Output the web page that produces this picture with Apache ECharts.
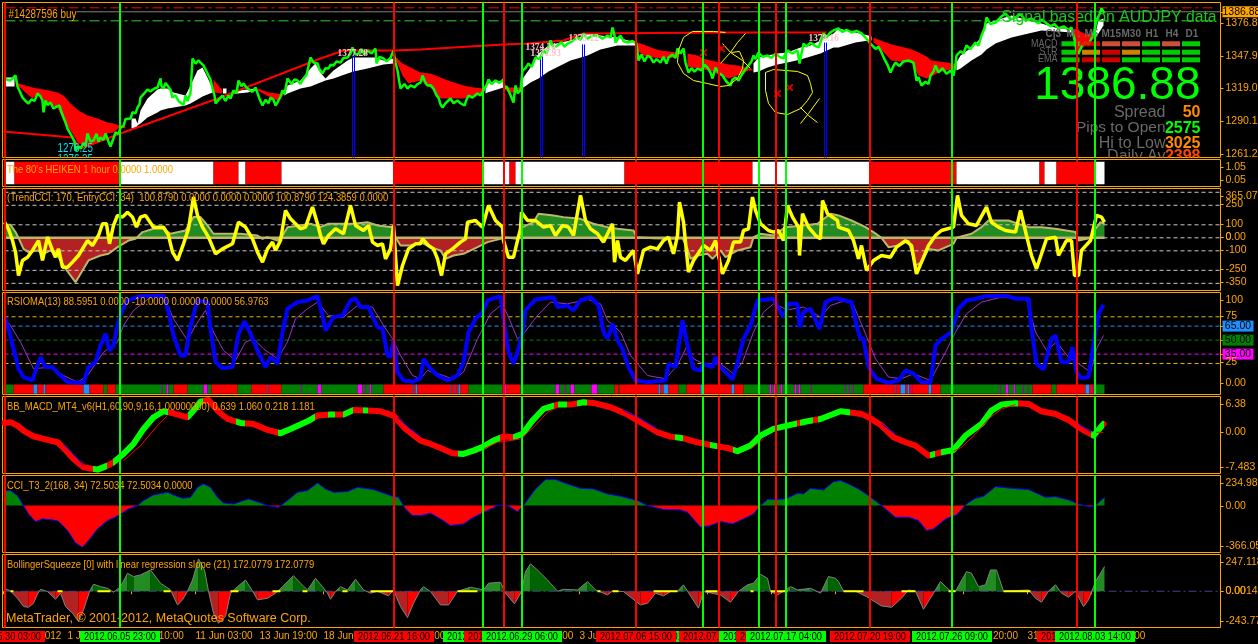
<!DOCTYPE html>
<html><head><meta charset="utf-8"><title>AUDJPY terminal</title>
<style>html,body{margin:0;padding:0;background:#000;overflow:hidden}#c{width:1258px;height:644px}</style>
<script src="https://cdn.jsdelivr.net/npm/echarts@6/dist/echarts.min.js"></script></head><body><div id="c"></div>
<script>
const priceLine=[[4,1328.8],[7,1326.5],[10,1326.1],[12,1328],[15,1330.5],[17,1320.8],[19,1317],[22,1311],[25,1308],[28,1305.8],[31,1309.5],[34,1308],[37,1314.6],[40,1312],[42,1308.4],[43,1298],[45,1308.4],[47,1304.5],[50,1306.6],[53,1301.3],[56,1303],[59,1304],[61,1298],[63,1293.4],[65,1289],[67,1283.6],[69,1285],[72,1275.7],[74,1272],[75,1264.2],[78,1268],[80,1265.9],[83,1271],[85,1268],[87,1279.2],[90,1272],[93,1273],[96,1279],[98,1272],[100,1275.7],[103,1273.5],[105,1279.2],[108,1272],[110,1267.7],[113,1275],[115,1280.1],[118,1279],[120,1284.5],[123,1286],[125,1292],[127,1293.4],[130,1292.5],[132,1298],[135,1297],[137,1302.2],[139,1305],[140,1311],[143,1314],[147,1318.2],[150,1316.5],[154,1319],[157,1319.9],[160,1327.9],[161,1321],[163,1319],[165,1324],[167,1323.4],[170,1318],[172,1311],[175,1313],[178,1308],[180,1307.5],[183,1304.5],[185,1312.8],[187,1308],[190,1315],[192,1345.6],[195,1341],[198,1344],[200,1342],[203,1339.4],[205,1336],[208,1330.5],[210,1327],[212,1319],[214,1313],[215,1305.8],[218,1309],[222,1312.8],[225,1308],[228,1313],[230,1310.2],[233,1317.3],[236,1315],[238,1326.1],[241,1321],[243,1323.4],[246,1320],[248,1319],[252,1316],[255,1320],[257,1319],[259,1310],[262,1304],[265,1309],[268,1306],[270,1311],[273,1309],[275,1304],[277,1306.6],[280,1312],[282,1317.3],[284,1314],[287,1327.9],[291,1323],[294,1327],[297,1326.1],[300,1323],[303,1327.9],[306,1331],[308,1339],[310,1346.5],[313,1342],[317,1341.2],[319,1336],[322,1332.3],[325,1337],[328,1336.7],[330,1340],[333,1339.4],[336,1343],[340,1342],[343,1346],[347,1346.5],[350,1350],[352,1355.3],[355,1349],[358,1350],[361,1354],[364,1349],[367,1352.7],[371,1350],[375,1354.4],[376,1341.2],[379,1347],[383,1345.6],[386,1343],[390,1346],[393,1352.7],[395,1342],[397,1334.9],[399,1324],[400,1319],[404,1323],[407,1319],[410,1321.7],[414,1320],[417,1323],[420,1324.3],[422,1330.5],[425,1324],[427,1321.7],[430,1322],[433,1319],[436,1313],[438,1311],[440,1305],[442,1302.2],[445,1306],[447,1305],[450,1310.2],[453,1306],[457,1308.4],[460,1306],[464,1304],[466,1309],[468,1312.8],[472,1311],[477,1314.6],[480,1313],[483,1317.3],[486,1322],[488,1327],[491,1323],[495,1326.1],[499,1324],[503,1327],[504,1319],[506,1321],[508,1317.3],[510,1313],[513,1306.6],[515,1321.7],[517,1315],[520,1317.3],[522,1334.9],[525,1337],[528,1341.2],[531,1338],[535,1346.5],[539,1345],[543,1352.7],[546,1350],[550,1361.5],[553,1355],[557,1357.1],[561,1360],[564,1356],[567,1358.8],[572,1361],[577,1364.2],[580,1362],[583,1367.7],[587,1363],[592,1366],[597,1365.9],[602,1363],[607,1365.9],[610,1364],[612,1373],[614,1366],[615,1359.7],[618,1364],[620,1365.9],[623,1361],[627,1359.7],[632,1361],[636,1358.8],[638,1343.8],[641,1349],[644,1343],[647,1348],[650,1346.5],[653,1342],[656,1345],[660,1342],[663,1347],[666,1341],[668,1346.5],[672,1349],[675,1346],[677,1354.4],[680,1350],[683,1354.4],[685,1342],[688,1333.2],[691,1337],[694,1334],[697,1336.7],[701,1335],[704,1340],[707,1337.6],[710,1333],[712,1327.9],[715,1337.6],[718,1333],[722,1330.5],[726,1325],[730,1321.7],[732,1327],[735,1328.8],[738,1326],[742,1332.3],[745,1336],[748,1339.4],[751,1343],[753,1348.2],[755,1345],[758,1350.9],[762,1347],[767,1348.2],[771,1346],[775,1350],[779,1347],[783,1345.6],[785,1350],[787,1352.7],[792,1350],[797,1352.7],[799,1341.2],[801,1350],[803,1358.8],[806,1356],[810,1359.7],[814,1357],[818,1355.3],[820,1360],[823,1367.7],[826,1364],[829,1368],[833,1370.4],[838,1372.1],[842,1369],[846,1371],[851,1368.6],[856,1370],[861,1367.7],[865,1364],[870,1358.8],[875,1354],[878,1356],[881,1350.9],[884,1345],[887,1340],[890,1333.2],[893,1339],[895,1342],[899,1339],[903,1343],[908,1343.8],[913,1342],[916,1326.1],[918,1329],[921,1321.7],[925,1325],[928,1323],[930,1330.5],[933,1334],[935,1339.4],[938,1333.2],[942,1337],[946,1332],[950,1335],[953,1330.5],[955,1340],[956,1348.2],[960,1352],[963,1350],[966,1357.1],[970,1354],[975,1359.7],[978,1357],[981,1365.9],[984,1372],[986,1381.9],[990,1376],[995,1377.4],[1000,1382],[1005,1385.4],[1010,1380],[1015,1381.9],[1020,1385],[1025,1379],[1031,1381],[1038,1376.5],[1041,1380],[1045,1377.4],[1050,1374],[1054,1376],[1058,1372.1],[1063,1374],[1068,1371],[1071,1373],[1073,1366],[1075,1358.8],[1076,1352],[1078,1350],[1081,1356],[1085,1359.7],[1088,1358],[1091,1363.3],[1094,1371],[1096,1379.2],[1099,1385],[1101,1389.8],[1104,1385.4]];
const cloudRows=[[4,1328.8,1320.8,'w'],[14,1328.8,1320.8,'w'],[15,1324.3,1323.4,'r'],[25,1321.7,1315.5,'r'],[32,1319.9,1310.2,'r'],[37,1319,1314.6,'r'],[43,1318.1,1308.4,'r'],[48,1317.3,1305.8,'r'],[57,1315.5,1302.2,'r'],[63,1312.8,1290.7,'r'],[70,1305.8,1281.9,'r'],[78,1299.6,1270.3,'r'],[87,1295.1,1268.6,'r'],[97,1292.5,1271.2,'r'],[107,1288.9,1279.2,'r'],[113,1288,1280.1,'r'],[119,1286.3,1284.5,'r'],[125,1285.4,1283.6,'r'],[131,1292.5,1283.6,'w'],[135,1292.5,1283.6,'w'],[137,1288,1286.3,'w'],[140,1299.6,1288,'w'],[147,1310.2,1293.4,'w'],[157,1318.1,1297.8,'w'],[160,1319,1299.6,'w'],[167,1319,1301.3,'w'],[173,1315.5,1302.2,'w'],[185,1312.8,1304,'w'],[190,1321.7,1305.8,'w'],[197,1334.9,1309.3,'w'],[202,1337.6,1311.9,'w'],[207,1328.8,1313.7,'w'],[212,1319,1315.5,'w'],[213,1327,1315.5,'r'],[222,1317.3,1314.6,'r'],[222.5,1319,1314.6,'w'],[226,1319,1314.6,'w'],[229,0,0,'-'],[233,1315.5,1314.6,'w'],[237,1317.3,1314.6,'w'],[247,1318.1,1315.5,'w'],[256,1319,1317.3,'w'],[257,1319,1317.3,'r'],[268,1315.5,1311.9,'r'],[277,1314.6,1308.4,'r'],[283,1313.7,1312.8,'r'],[284,1314.6,1312.8,'w'],[287,1321.7,1314.6,'w'],[300,1326.1,1319,'w'],[310,1336.7,1320.8,'w'],[315,1341.2,1322.6,'w'],[320,1333.2,1324.3,'w'],[325,1327.9,1326.1,'w'],[333,1335,1327.9,'w'],[347,1343.8,1332.3,'w'],[353,1346.5,1334.1,'w'],[367,1346.5,1336.7,'w'],[375,1346.5,1338.5,'w'],[383,1343.8,1340.3,'w'],[393,1345.6,1341.2,'w'],[395,1346.5,1343.8,'r'],[397,1345.6,1341.2,'r'],[402,1341.2,1330.5,'r'],[408,1338.5,1323.4,'r'],[420,1333.2,1326.1,'r'],[430,1332.3,1319.9,'r'],[440,1328.8,1310.2,'r'],[450,1325.2,1310.2,'r'],[463,1321.7,1310.2,'r'],[473,1319.9,1312.8,'r'],[483,1319,1315.5,'r'],[485,1319.9,1314.6,'w'],[487,1323.4,1315.5,'w'],[503,1326.1,1319.9,'w'],[503.5,1319.9,1319,'r'],[508,1319.9,1315.5,'r'],[517,1319.9,1315.5,'r'],[521,1319.9,1319,'r'],[522,1326.1,1319.9,'w'],[523,1328.8,1319.9,'w'],[530,1337.6,1324.3,'w'],[538,1350,1327.9,'w'],[548,1357.1,1334.1,'w'],[560,1359.7,1339.4,'w'],[570,1361.5,1343.8,'w'],[577,1363.3,1345.6,'w'],[587,1367.7,1348.2,'w'],[600,1365.9,1353.5,'w'],[617,1364.2,1357.1,'w'],[635,1359.7,1357.1,'w'],[637,1359.7,1352.7,'r'],[643,1358,1348.2,'r'],[653,1354.4,1346.5,'r'],[660,1352.7,1345.6,'r'],[677,1350.9,1346.5,'r'],[682,0,0,'-'],[687,1350,1338.5,'r'],[697,1348.2,1336.7,'r'],[703,1345.6,1335.8,'r'],[710,1343.8,1335,'r'],[720,1342,1330.5,'r'],[728,1340.3,1327.9,'r'],[737,1339.4,1330.5,'r'],[748,1336.7,1335,'r'],[752,1335.8,1335,'r'],[753,1341.2,1333.2,'w'],[758,1346.5,1334.1,'w'],[767,1348.2,1337.6,'w'],[777,1350,1340.3,'w'],[787,1350.9,1342,'w'],[800,1355.3,1344.7,'w'],[810,1357.1,1347.3,'w'],[820,1361.5,1350,'w'],[833,1367.7,1355.3,'w'],[838,1372.1,1355.3,'w'],[855,1368.6,1359.7,'w'],[868,1365.9,1361.5,'w'],[871,1365,1361.5,'w'],[873,1364.2,1359.7,'r'],[875,1363.3,1358.8,'r'],[888,1358.8,1346.5,'r'],[891,1358,1343.8,'r'],[908,1354.4,1342,'r'],[911,1353.5,1342,'r'],[918,1350.9,1330.5,'r'],[926,1347.3,1327.9,'r'],[931,1343.8,1329.6,'r'],[938,1342.9,1333.2,'r'],[953,1341.2,1336.7,'r'],[955,1341.2,1338.5,'r'],[956,1342,1335,'w'],[960,1348.2,1336.7,'w'],[971,1355.3,1343.8,'w'],[981,1364.2,1349.1,'w'],[986,1376.5,1353.5,'w'],[995,1379.2,1358.8,'w'],[1011,1383.6,1364.2,'w'],[1028,1379.2,1367.7,'w'],[1041,1376.5,1370.4,'w'],[1058,1372.1,1369.5,'w'],[1071,1372.1,1368.6,'w'],[1073,1372.1,1357.1,'r'],[1078,1370.4,1350.9,'r'],[1086,1366.8,1358.8,'r'],[1095,1368.6,1364.2,'r'],[1095.5,1370.4,1364.2,'w'],[1098,1379.2,1367.7,'w'],[1103,1381,1374.8,'w']];
const trendLine=[[3,1281],[72,1275.7],[80,1265.9],[120,1279.2],[217,1310.2],[320,1345.6],[343,1352.7],[393,1352.7],[420,1353.5],[453,1355.3],[503,1358],[527,1358.8],[563,1361.5],[583,1367.7],[720,1368.6],[826,1368.6]];
const blueBarX=[352,354,540,542,582,584,824,826];
const blueBarTop=[1348.2,1348.2,1347.3,1347.3,1358,1358,1359.7,1359.7];
const handDrawn=[[725,1368.6],[713,1369.5],[692,1369.5],[683,1364.2],[678,1352.7],[677,1342],[683,1332.3],[693,1326.1],[707,1323.4],[720,1320.8],[728,1321.7],[737,1327.9],[742,1336.7],[743,1343.8],[739,1351.8],[731,1350.9],[731,null],[722,1358.8],[730,1350.9],[742,1343.8],[750,1336.7],[750,null],[745,1367.7],[737,1359.7],[730,1350.9],[720,1341.2],[720,null],[765,1333.2],[773,1335.8],[797,1334.1],[807,1330.5],[810,1323.4],[812,1315.5],[807,1308.4],[800,1301.3],[787,1296],[775,1297.8],[768,1305.8],[765,1317.3],[765,1333.2],[765,null],[819,1310.2],[808,1296.9],[800,1288],[800,null],[800,1302.2],[808,1295.1],[817,1288.9]];
const crossMarks=[[703,1350.9],[721,1354.4],[777,1314.6],[789,1319.9]];
const currentPrice=1386.88, stopLevel=1390.4, targetLevel=1378.9;

const signalColX=[1070,1090.5,1110.5,1130.5,1150.5,1170.5,1190.5];
const signalRowY=[1358.6,1351.1,1344.4];
const macdRow=['#00ff00','#ff0000','#ff6347','#ff6347','#00ff00','#ff6347','#00ff00'];
const strRow=['#00ff00','#ffa500','#ff0000','#ffa500','#00ff00','#00ff00','#00ff00'];
const emaRow=['#00ff00','#ff0000','#ff0000','#00ff00','#00ff00','#00ff00','#00ff00'];

const noteX=[8,57,57,337,525,530,568,808,1001,1045,1066,1084,1101,1121,1145,1165,1185,1057,1057,1057,1200,1165,1200,1165,1200,1165,1200,1165,1200];
const noteY=[1383.9,1265.9,1256.2,1350,1356,1350.5,1363.7,1363.7,1381.9,1367.1,1367.1,1367.1,1367.1,1367.1,1367.1,1367.1,1367.1,1358.6,1351.3,1344.6,1321.2,1297.8,1297.8,1283.9,1283.9,1270.6,1270.6,1258.4,1258.4];
const noteText=['#14287596 buy','1276.25','1276.25','1377.28','1374.24','1371.93','1379.12','1378.16','Signal based on AUDJPY data','C|3','M1','M5','M15','M30','H1','H4','D1','MACD','STR','EMA','1386.88','Spread','50','Pips to Open','2575','Hi to Low','3025','Daily Av','2398'];
const noteColor=['#ffa500','#00e5ee','#00e5ee','#ffc0cb','#ffc0cb','#ffc0cb','#ffc0cb','#ffc0cb','#1cc61c','#696969','#696969','#696969','#696969','#696969','#696969','#696969','#696969','#696969','#696969','#696969','#00ff00','#696969','#ff8c00','#696969','#00ff00','#696969','#ff8c00','#696969','#ff4500'];
const noteSize=[12,12,12,11,11,11,11,11,15.8,10,10,10,10,10,10,10,10,10,10,10,46,16,16,15.5,16,16,16,16,16];
const noteWeight=['normal','normal','normal','bold','bold','bold','bold','bold','normal','bold','bold','bold','bold','bold','bold','bold','bold','normal','normal','normal','normal','normal','bold','normal','bold','normal','bold','normal','bold'];
const noteScale=[.82,.82,.82,.85,.85,.85,.85,.85,1,1,1,1,1,1,1,1,1,.9,.9,.9,1,1,1,1,1,1,1,1,1];
const noteFace=['a','a','a','s','s','s','s','s','a','a','a','a','a','a','a','a','a','a','a','a','a','a','a','a','a','a','a','a','a'];
const noteAlign=['left','left','left','left','left','left','left','left','left','left','left','left','left','left','left','left','left','right','right','right','right','right','right','right','right','right','right','right','right'];

const heikenStart=[5,14,120,213,238,245,281,393,483,509,515,624,752,869,956,1039,1044,1056,1095];
const heikenEnd=[14,120,213,238,245,281,393,483,509,515,624,752,869,956,1039,1044,1056,1095,1104];
const heikenKind=['w','r','w','r','w','r','w','r','w','r','w','r','w','r','w','r','w','r','w'];

const cciEntry=[[4,120],[8,69],[12,-21],[15,-110],[18,-290],[22,-174],[27,-149],[32,-97],[38,-21],[42,-174],[47,5],[52,-97],[55,-149],[58,-85],[62,-226],[67,-226],[72,-187],[78,-136],[87,-21],[92,-59],[98,18],[102,108],[106,108],[109,-46],[113,95],[117,172],[122,159],[127,197],[132,159],[136,82],[140,159],[145,172],[153,82],[163,82],[168,18],[172,-110],[177,-174],[183,-46],[188,69],[193,313],[197,172],[202,82],[208,5],[215,-123],[222,-85],[232,-46],[238,120],[245,82],[252,-8],[257,-110],[262,-187],[267,-85],[272,-33],[275,-97],[280,-21],[285,210],[290,146],[300,69],[305,82],[312,236],[317,108],[320,18],[323,-46],[328,18],[335,69],[343,31],[350,249],[355,95],[363,56],[368,95],[372,-33],[377,-59],[382,-46],[385,-162],[390,-85],[393,95],[397,-367],[402,-213],[408,-85],[415,-46],[420,-46],[422,-8],[428,-59],[433,-85],[437,-162],[441,-290],[445,-123],[452,-85],[460,-33],[465,-8],[467,120],[475,133],[482,82],[488,249],[495,133],[502,82],[503,-21],[508,-149],[513,-149],[517,-21],[520,69],[521,197],[527,133],[535,133],[543,82],[550,95],[555,18],[562,95],[568,82],[573,18],[580,326],[585,133],[590,69],[597,31],[603,-33],[612,108],[614,-187],[617,-21],[620,-149],[625,-174],[633,-97],[637,-277],[643,-97],[650,-72],[657,-85],[663,-21],[668,5],[673,-123],[677,18],[679,274],[683,120],[688,-264],[693,-174],[703,-59],[710,-97],[715,-21],[718,-136],[722,-277],[728,-174],[733,-33],[740,-33],[743,56],[748,69],[752,313],[755,210],[760,108],[768,56],[773,44],[778,56],[783,-21],[787,249],[792,159],[798,82],[799,-136],[802,185],[808,82],[815,18],[820,-8],[822,287],[827,185],[837,133],[838,82],[848,56],[853,-21],[858,-162],[861,-59],[866,-251],[873,-174],[881,-136],[890,-149],[896,-72],[905,-21],[911,-59],[916,-277],[921,-187],[928,-59],[935,18],[941,56],[953,82],[957,326],[961,172],[968,108],[976,95],[986,236],[991,120],[998,82],[1005,56],[1015,44],[1020,210],[1026,18],[1031,-136],[1036,-238],[1046,-8],[1055,5],[1058,-136],[1066,-21],[1071,-21],[1074,-290],[1078,-290],[1081,-97],[1090,-21],[1096,172],[1101,159],[1104,120]];
const cciTrend=[[4,100],[10,100],[15,44],[18,0],[23,-85],[28,-110],[37,-97],[43,-123],[50,-97],[57,-136],[65,-238],[75,-341],[82,-251],[88,-174],[100,-136],[108,-123],[117,-72],[128,-21],[135,-8],[142,44],[153,69],[163,69],[170,31],[185,56],[193,159],[200,159],[207,95],[213,31],[227,31],[240,31],[257,18],[262,-8],[267,5],[277,-21],[282,18],[287,82],[300,95],[310,108],[320,82],[328,108],[347,108],[353,108],[367,120],[377,95],[392,82],[395,5],[400,-59],[410,-59],[420,-33],[430,-72],[440,-97],[445,-162],[453,-136],[463,-123],[477,-72],[487,-33],[500,-8],[503,5],[517,-8],[522,82],[533,120],[538,185],[553,172],[563,159],[580,146],[593,108],[607,82],[617,69],[633,56],[636,5],[653,-3],[673,-8],[682,-3],[687,-85],[690,-162],[697,-136],[707,-123],[712,-162],[720,-97],[725,-149],[737,-97],[750,-72],[753,5],[760,31],[773,18],[785,82],[803,95],[817,108],[830,185],[838,172],[851,133],[865,82],[873,44],[881,0],[888,-72],[898,-59],[908,-21],[915,-213],[921,-187],[928,-85],[938,-97],[953,-46],[956,0],[971,31],[981,82],[988,133],[1008,133],[1028,82],[1041,82],[1055,69],[1075,44],[1078,-21],[1091,0],[1095,69],[1100,120],[1104,108]];
const cciDashLevels=[350,250,100,0,-100,-250,-350];

const rsiBlue=[[4,74.6],[8,62.1],[13,40.7],[18,19.3],[23,10.4],[32,6.8],[37,22.9],[40,31.8],[45,21.1],[52,21.1],[58,14],[67,5],[83,4.3],[88,21.1],[95,26.4],[100,44.3],[105,56.8],[109,38.9],[113,44.3],[117,65.7],[121,80],[127,92.5],[140,97.1],[163,97.9],[168,80],[173,55],[180,33.6],[185,33.6],[190,65.7],[197,92.5],[207,90.7],[210,62.1],[215,26.4],[222,20],[232,21.1],[238,56.8],[244,70],[250,56.8],[257,38.9],[265,21.1],[270,31.8],[277,24.6],[282,58.6],[287,83.6],[297,90.7],[307,92.5],[317,97.1],[322,76.4],[325,60.4],[333,74.6],[342,76.4],[350,92.5],[355,94.3],[360,85.4],[368,85.4],[373,72.9],[377,63.9],[382,62.1],[387,33.6],[390,31.8],[393,49.6],[397,15.7],[403,6.8],[413,5.7],[420,9.3],[423,30],[430,19.3],[437,12.1],[447,6.8],[457,12.1],[463,26.4],[468,58.6],[475,72.9],[482,80],[487,92.5],[500,97.1],[503,72.9],[508,37.1],[513,24.6],[518,40.7],[522,58.6],[525,82],[535,93.6],[553,96],[557,85.4],[567,87.1],[573,81.8],[580,92.5],[590,96.1],[598,87.1],[603,58.6],[607,51.4],[612,67.5],[617,49.6],[622,40.7],[628,21.1],[635,6.8],[647,5],[665,6.8],[668,24.6],[675,21.1],[682,71.1],[687,44.3],[693,19.3],[700,17.5],[703,24.6],[712,21.1],[715,31.8],[720,21.1],[732,7.9],[738,30],[743,51.4],[750,65.7],[757,92.5],[773,94.3],[783,74.6],[788,88.9],[797,88.9],[799,63.9],[803,80],[810,83.6],[819,62.1],[825,90.7],[833,94.3],[838,94.3],[851,90.7],[856,65.7],[860,51.4],[863,51.4],[868,21.1],[876,8.6],[888,4.3],[898,6.8],[905,17.5],[913,13.9],[921,5],[930,5],[935,44.3],[941,51.4],[951,58.6],[958,83.6],[966,92.5],[976,94.3],[985,97.1],[1005,97.9],[1015,94.3],[1028,94.3],[1031,62.1],[1036,24.6],[1043,18.6],[1051,51.4],[1055,55],[1061,26.4],[1068,26.4],[1072,42.5],[1076,15.7],[1081,9.3],[1088,10.4],[1095,58.6],[1098,78.2],[1103,87.9]];
const rsiPurple=[[4,72.9],[10,65.7],[20,47.9],[33,19.3],[50,21.1],[63,12.1],[77,5],[87,12.1],[103,37.1],[117,47.9],[123,65.7],[133,81.8],[150,96],[163,97.9],[173,72.9],[187,49.6],[195,65.7],[205,81.8],[213,58.6],[223,38.9],[235,28.2],[245,47.9],[253,51.4],[263,40.7],[277,30],[287,47.9],[295,72.9],[307,83.6],[317,90.7],[328,76.4],[343,74.6],[357,87.1],[372,85.4],[383,65.7],[392,51.4],[400,33.6],[412,12.1],[420,8.6],[427,17.5],[443,12.1],[453,7.9],[463,15.7],[477,51.4],[490,78.2],[502,88.9],[508,74.6],[517,51.4],[523,56.8],[537,76.4],[550,90.7],[567,88.9],[587,93.6],[600,88.9],[607,71.1],[620,58.6],[630,33.6],[647,12.1],[665,8.6],[677,22.9],[686,42.5],[693,30],[703,24.6],[720,24.6],[733,13.9],[742,26.4],[753,58.6],[763,80],[773,88.9],[787,82.5],[803,85.4],[820,74.6],[830,87.1],[840,90.7],[851,92.5],[863,62.1],[875,30],[888,10.4],[901,8.6],[913,13.9],[930,6.8],[945,37.1],[955,58.6],[966,78.2],[981,90.7],[1001,96.1],[1026,94.3],[1035,58.6],[1046,38.9],[1056,47.9],[1068,31.8],[1076,26.4],[1090,15.7],[1096,40.7],[1103,55]];
const rsiLevels=[75,65,50,35,25];
const rsiLevelColors=['#e6b800','#1e90ff','#008000','#ff00ff','#e6b800'];
const stripRuns=[[3,'g'],[13,'r'],[33,'b'],[37,'r'],[43,'b'],[45,'r'],[83,'b'],[89,'r'],[103,'g'],[107,'r'],[115,'g'],[161,'m'],[162,'g'],[166,'m'],[168,'g'],[173,'r'],[187,'g'],[203,'m'],[207,'g'],[211,'r'],[237,'g'],[251,'r'],[267,'b'],[268,'r'],[281,'g'],[300,'m'],[301,'g'],[317,'m'],[321,'g'],[357,'m'],[362,'g'],[364,'m'],[365,'g'],[369,'m'],[371,'g'],[383,'r'],[412,'b'],[413,'r'],[415,'b'],[417,'r'],[450,'b'],[451,'r'],[455,'b'],[456,'r'],[458,'b'],[460,'r'],[468,'g'],[502,'r'],[503,'m'],[506,'r'],[520,'g'],[555,'m'],[559,'g'],[564,'m'],[565,'g'],[570,'m'],[574,'g'],[591,'m'],[597,'g'],[614,'r'],[618,'g'],[619,'r'],[658,'b'],[660,'r'],[663,'b'],[668,'r'],[678,'g'],[686,'r'],[700,'b'],[702,'r'],[731,'b'],[734,'r'],[743,'g'],[769,'m'],[771,'g'],[773,'m'],[775,'g'],[780,'m'],[782,'g'],[794,'m'],[796,'g'],[798,'m'],[800,'g'],[810,'m'],[811,'g'],[844,'m'],[845,'g'],[848,'m'],[849,'g'],[852,'m'],[853,'g'],[863,'r'],[895,'b'],[896,'r'],[900,'b'],[905,'r'],[907,'b'],[909,'r'],[911,'m'],[912,'r'],[928,'b'],[931,'r'],[940,'g'],[999,'m'],[1000,'g'],[1005,'m'],[1008,'g'],[1013,'m'],[1015,'g'],[1022,'m'],[1023,'g'],[1027,'m'],[1028,'g'],[1032,'r'],[1051,'g'],[1056,'r'],[1085,'b'],[1089,'r'],[1092,'m'],[1093,'r'],[1094,'g'],[1104,'-']];

const macdMain=[[4,1.62],[10,1.74],[17,1.14],[23,0.24],[33,-0.78],[43,-1.26],[57,-1.86],[63,-2.88],[73,-4.86],[83,-6.36],[97,-6.78],[107,-6.06],[113,-5.46],[123,-3.96],[133,-2.16],[143,0.54],[153,2.64],[163,3.72],[173,3.36],[187,2.64],[193,3.84],[200,5.46],[208,5.76],[217,3.84],[227,2.34],[240,1.62],[253,1.44],[267,0.36],[280,-0.24],[290,0.54],[307,1.92],[317,2.94],[330,3.12],[343,3.12],[353,3.96],[367,3.84],[380,3.72],[393,2.94],[405,0.54],[420,-1.56],[430,-2.16],[440,-2.88],[452,-3.84],[463,-3.96],[473,-3.36],[483,-2.64],[493,-1.56],[503,-0.84],[513,-0.96],[522,-0.36],[532,2.04],[543,4.14],[557,4.92],[570,4.92],[583,5.34],[593,5.22],[610,4.44],[627,3.12],[640,1.74],[657,-0.06],[670,-0.84],[683,-1.14],[697,-1.86],[713,-2.46],[727,-2.88],[737,-3.48],[750,-2.46],[760,-0.66],[773,0.54],[790,1.26],[807,1.92],[820,2.34],[840,3.72],[848,3.54],[861,3.24],[871,2.34],[881,1.14],[893,-0.96],[905,-1.86],[915,-2.46],[928,-4.26],[941,-3.66],[953,-3.24],[965,-0.66],[981,1.44],[991,3.84],[1001,4.92],[1015,5.16],[1028,5.04],[1041,3.72],[1055,3.24],[1068,2.16],[1078,0.84],[1093,-0.66],[1103,1.44]];
const macdTurnX=[92,107,112,168,188,203,235,245,278,315,328,335,343,353,362,368,458,500,513,553,557,567,577,587,675,683,710,717,732,797,800,812,818,850,930,935,941,1018,1091,1104];
const macdBlueThin=[[63,-2.16],[73,-3.96],[83,-6.06],[83,null],[397,2.64],[410,0.54],[420,-0.66],[420,null],[623,3.84],[638,2.64],[657,0.54],[657,null],[881,1.44],[895,-0.36],[895,null],[1078,1.44],[1091,-0.06]];
const macdRedThin=[[123,-5.16],[140,-2.46],[157,1.14],[167,2.94],[167,null],[483,-3.06],[497,-1.86],[520,-1.26],[533,0.84],[547,3.54],[557,4.44],[557,null],[750,-3.06],[763,-1.26],[763,null],[953,-3.48],[961,-2.76],[975,-0.36],[988,2.34],[1001,4.14],[1015,4.92],[1015,null],[1095,-0.06],[1103,-0.06]];

const t3Values=[[4,117],[10,117],[17,78],[23,0],[28,-65],[35,-125],[42,-104],[50,-109],[58,-122],[67,-195],[75,-291],[82,-325],[88,-273],[97,-182],[107,-117],[118,-78],[128,-26],[137,0],[143,39],[153,83],[167,104],[173,83],[182,57],[190,65],[197,143],[203,169],[210,143],[217,65],[223,21],[233,13],[248,52],[258,26],[267,0],[278,-13],[287,39],[297,104],[307,117],[317,177],[325,130],[333,104],[347,109],[357,143],[373,125],[390,78],[398,65],[405,-26],[412,-78],[420,-78],[430,-60],[440,-104],[450,-156],[463,-143],[473,-91],[487,-39],[497,0],[507,0],[517,-47],[523,0],[535,130],[545,203],[555,203],[567,169],[580,135],[593,130],[607,91],[620,73],[637,39],[647,0],[663,-31],[680,-34],[687,-52],[700,-169],[710,-156],[720,-125],[732,-143],[743,-104],[753,-65],[760,0],[767,47],[785,52],[797,96],[803,91],[810,135],[823,122],[833,187],[840,195],[848,169],[858,130],[868,78],[881,0],[895,-91],[908,-91],[918,-117],[926,-195],[933,-182],[945,-104],[956,-73],[966,13],[975,57],[983,73],[995,148],[1011,135],[1028,125],[1045,65],[1055,70],[1068,44],[1078,13],[1088,-8],[1095,0],[1104,65]];

const bbValues=[[4,20],[10,2],[17,-47],[23,-103],[28,-108],[33,-81],[37,-18],[40,13],[47,-2],[55,-54],[60,-13],[65,-103],[72,-148],[78,-204],[83,-126],[89,-2],[93,47],[100,31],[107,20],[113,-7],[120,31],[127,121],[133,99],[140,110],[150,143],[160,54],[170,9],[177,-92],[182,-58],[187,0],[192,76],[198,217],[204,143],[208,0],[213,-148],[218,-215],[225,-170],[230,-13],[237,31],[245,76],[252,2],[257,-58],[267,-47],[275,-13],[282,31],[293,105],[300,54],[307,9],[315,87],[322,31],[327,-13],[330,-54],[335,-2],[340,31],[347,9],[355,81],[363,9],[370,-13],[377,0],[388,-31],[393,9],[400,-103],[407,-177],[413,-81],[420,9],[423,31],[430,-2],[440,-92],[448,-92],[457,0],[470,27],[483,9],[488,54],[500,61],[505,-13],[514,-85],[521,-2],[525,132],[530,184],[537,143],[547,76],[557,0],[563,13],[577,9],[587,65],[595,9],[607,-25],[612,2],[623,-2],[630,-40],[640,-92],[647,-81],[655,-13],[663,-31],[670,-2],[677,0],[683,43],[687,0],[698,-114],[703,-2],[720,-25],[730,-74],[738,0],[747,43],[753,54],[760,114],[767,87],[770,0],[777,-25],[783,0],[790,31],[797,9],[810,20],[820,-13],[828,99],[835,87],[838,65],[843,0],[855,0],[866,-36],[881,-99],[891,-108],[901,-47],[908,9],[915,0],[923,-121],[933,-13],[940,65],[950,0],[955,0],[966,132],[971,121],[978,31],[985,43],[990,143],[996,143],[1003,0],[1028,9],[1035,-47],[1041,-74],[1048,0],[1055,43],[1061,-13],[1068,-40],[1075,0],[1083,-103],[1088,-58],[1095,65],[1104,166]];
const squeezeStart=[10,57,97,163,230,272,302,342,370,457,597,612,653,705,750,770,843,901,948,1003];
const squeezeEnd=[13,62,110,170,238,280,307,347,393,477,600,618,677,717,753,787,863,915,955,1030];

const vlineX=[4.5,119.5,393.5,482.5,503.5,521.5,702.5,635.5,718.5,758.5,775.5,785.5,869.5,951.5,1076.5,1094.5];
const vlineKind=['r','g','r','g','r','g','g','r','r','g','r','g','r','g','r','g'];
const vlineTime=['2012.05.30 03:00','2012.06.05 23:00','2012.06.21 16:00','2012.06.27 21:00','2012.06.28 12:00','2012.06.29 06:00','2012.07.11 01:00','2012.07.06 15:00','2012.07.12 09:00','2012.07.16 10:00','2012.07.16 15:00','2012.07.17 04:00','2012.07.20 19:00','2012.07.26 09:00','2012.08.02 12:00','2012.08.03 14:00'];
const timeTicks=[3,67,131,195,259,323,387,451,515,579,643,707,771,835,899,963,1027,1091];
const timeLabels=['30 May 2012','1 Jun 20:00','5 Jun 10:00','11 Jun 03:00','13 Jun 19:00','18 Jun 12:00','20 Jun 21:00','25 Jun 17:00','28 Jun 10:00','3 Jul 02:00','5 Jul 19:00','10 Jul 11:00','12 Jul 23:00','17 Jul 15:00','20 Jul 07:00','25 Jul 20:00','31 Jul 00:00','2 Aug 20:00'];

const panelTitles=['The 80\'s HEIKEN 1 hour 0.0000 1.0000','(TrendCCI: 170, EntryCCI: 34)  100.8790 0.0000 0.0000 0.0000 100.8790 124.3859 0.0000','RSIOMA(13) 88.5951 0.0000 -10.0000 0.0000 0.0000 56.9763','BB_MACD_MT4_v6(H1,60,90,9,16,1.00000000) 0.639 1.060 0.218 1.181','CCI_T3_2(168, 34) 72.5034 72.5034 0.0000','BollingerSqueeze [0] with linear regression slope (21) 172.0779 172.0779','MetaTrader, © 2001-2012, MetaQuotes Software Corp.'];

const ARIAL='"Liberation Sans",sans-serif', SERIF='"Liberation Serif",serif';
const ORANGE='#ffa500', XMIN=2, XMAX=1220;
const colors={w:'#ffffff',r:'#ff0000',g:'#00ff00'};
const stripColors={r:'#ff0000',g:'#008000',b:'#1e90ff',m:'#ff00ff'};
const panels=[[2,155,1258.0,1395.1],[159,27,-0.1,1.1],[188,102,-405,379],[292,102,-8.25,101],[396,77,-7.483,6.38],[475,77,-366.056,234.989],[554,73,-243.774,247.118]];
const axisTexts=[
 [[1386.88,'{tag|1386.88}'],[1376.85,'1376.85'],[1347.95,'1347.95'],[1319.05,'1319.05'],[1290.15,'1290.15'],[1261.25,'1261.25']],
 [[0.76,'1.05'],[0.18,'0.05'],[0.03,'0.00']],
 [[364,'350'],[320,'365.072'],[258,'250'],[105,'100'],[5,'0.00'],[4,'0'],[-95,'-100'],[-242,'-250'],[-340,'-350'],[-351,'-403.475']],
 [[93.2,'100'],[75.6,'75'],[65,'{blue|65.00}'],[50,'{green|50.00}'],[35,'{mag|35.00}'],[26.4,'25'],[3.5,'0.00'],[-0.8,'-10']],
 [[5.06,'6.38'],[0,'0.00'],[-6.36,'-7.483']],
 [[175,'234.989'],[-4,'0.00'],[-319,'-366.056']],
 [[198,'247.118'],[3,'0.00'],[2,'0.0014'],[-201,'-243.774']]];

function indexData(n){const a=[];for(let i=0;i<n;i++)a.push([i]);return a;}
function splitZero(pts){const o=[pts[0]];for(let i=1;i<pts.length;i++){const a=pts[i-1],b=pts[i];if(a[1]*b[1]<0){o.push([a[0]+(b[0]-a[0])*a[1]/(a[1]-b[1]),0]);}o.push(b);}return o;}
function runs(pts,colorOf){const out=[];for(let i=1;i<pts.length;i++){const c=colorOf(pts[i-1],pts[i]);const l=out[out.length-1];if(l&&l.color===c)l.pts.push(pts[i]);else out.push({color:c,pts:[pts[i-1],pts[i]]});}return out;}
function polySeries(g,polys,z){return{type:'custom',xAxisIndex:g,yAxisIndex:g,clip:true,z:z||2,silent:true,data:indexData(polys.length),renderItem:(p,api)=>{const q=polys[p.dataIndex];return{type:'polygon',shape:{points:q.pts.map(v=>api.coord(v))},style:{fill:q.color}};}};}
function areaRuns(vals,colorOf){return runs(splitZero(vals),colorOf).map(r=>({color:r.color,pts:[[r.pts[0][0],0],...r.pts,[r.pts[r.pts.length-1][0],0]]}));}
function lineSeries(g,data,color,width,z,type){return{type:'line',xAxisIndex:g,yAxisIndex:g,data,showSymbol:false,symbol:'none',silent:true,z:z||3,lineStyle:{color,width,type:type||'solid',cap:'butt'},itemStyle:{color}};}
function levelSeries(g,v,color,from,to,dash,width){return lineSeries(g,[[from,v],[to,v]],color,width||1,2,dash);}

const cloudPolys=[];{let i=0;while(i<cloudRows.length){let j=i;while(j+1<cloudRows.length&&cloudRows[j+1][3]===cloudRows[i][3])j++;if(cloudRows[i][3]!=='-'){const seg=cloudRows.slice(i,j+1);cloudPolys.push({color:colors[cloudRows[i][3]],pts:[...seg.map(r=>[r[0],r[1]]),...seg.slice().reverse().map(r=>[r[0],r[2]])]});}i=j+1;}}
const blueBars=[];blueBarX.forEach((x,i)=>{blueBars.push([x,blueBarTop[i]],[x,1258],[x,null]);});
const squeeze=[];squeezeStart.forEach((s,i)=>{squeeze.push([s,0],[squeezeEnd[i],0],[squeezeEnd[i],null]);});
const pieces=[];{let prev=0,on=false;macdTurnX.forEach(x=>{pieces.push({gte:prev,lt:x,color:on?'#00ff00':'#ff0000'});prev=x;on=!on;});pieces.push({gte:prev,lte:XMAX,color:on?'#00ff00':'#ff0000'});}

const series=[];
series.push(polySeries(0,cloudPolys));
series.push(lineSeries(0,trendLine,'#ff0000',2,3));
series.push(lineSeries(0,[[5,stopLevel],[1213,stopLevel]],'#ff0000',1,3,[10,4,3,4]));
series.push(lineSeries(0,[[76,currentPrice],[1220,currentPrice]],'#808080',1,3));
series.push(lineSeries(0,[[5,targetLevel],[1213,targetLevel]],'#32cd32',1,3,[10,4,3,4]));
series.push(lineSeries(0,blueBars,'#0000ff',1,3));
series.push(lineSeries(0,priceLine,'#00ff00',2.5,4));
series.push({type:'custom',xAxisIndex:1,yAxisIndex:1,clip:true,z:2,silent:true,data:indexData(heikenStart.length),renderItem:(p,api)=>{const i=p.dataIndex,a=api.coord([heikenStart[i],1]),b=api.coord([heikenEnd[i],0]);return{type:'rect',shape:{x:a[0],y:a[1],width:b[0]-a[0],height:b[1]-a[1]},style:{fill:colors[heikenKind[i]]}};}});
cciDashLevels.forEach(v=>series.push(levelSeries(2,v,'#c8c8c8',4,1220,[4,3])));
series.push(polySeries(2,areaRuns(cciTrend,(a,b)=>(a[1]+b[1])>=0?'#228b22':'#b22222')));
series.push(levelSeries(2,0,'#bdb76b',4,1104,'solid',2.5));
series.push(lineSeries(2,cciTrend,'#bdb76b',2,3));
series.push(lineSeries(2,cciEntry,'#ffff00',3.5,4));
rsiLevels.forEach((v,i)=>series.push(levelSeries(3,v,rsiLevelColors[i],4,1220,[4,3])));
series.push({type:'custom',xAxisIndex:3,yAxisIndex:3,clip:true,z:2,silent:true,data:indexData(stripRuns.length-1),renderItem:(p,api)=>{const i=p.dataIndex,a=api.coord([stripRuns[i][0],2.5]),b=api.coord([stripRuns[i+1][0],-7.5]);return{type:'rect',shape:{x:a[0],y:a[1],width:b[0]-a[0],height:b[1]-a[1]},style:{fill:stripColors[stripRuns[i][1]]}};}});
series.push(lineSeries(3,rsiPurple,'#9932cc',1,3));
series.push(lineSeries(3,rsiBlue,'#0000ff',4,4));
series.push(lineSeries(4,macdBlueThin,'#0000ff',1,3));
series.push(lineSeries(4,macdRedThin,'#ff0000',1,3));
const macdThickIndex=series.length;
series.push({type:'line',xAxisIndex:4,yAxisIndex:4,data:macdMain,showSymbol:false,symbol:'none',silent:true,z:2,lineStyle:{width:6,cap:'round',join:'round'}});
series.push(polySeries(5,areaRuns(t3Values,(a,b)=>(a[1]+b[1])>=0?'#008000':'#ff0000')));
series.push(lineSeries(5,t3Values,'#0000ff',1,3));
series.push(levelSeries(6,0,'#483d8b',4,1220,[8,3,2,3]));
series.push(polySeries(6,areaRuns(bbValues,(a,b)=>{const pos=(a[1]+b[1])>=0,up=Math.abs(b[1])>=Math.abs(a[1]);return pos?(up?'#228b22':'#006400'):(up?'#b22222':'#ff0000');})));
series.push(lineSeries(6,bbValues,'#808080',1,3));
series.push(lineSeries(6,squeeze,'#ffff00',2,4));
series.push({type:'custom',xAxisIndex:0,yAxisIndex:0,clip:true,z:5,silent:true,data:indexData(noteText.length),renderItem:(p,api)=>{const i=p.dataIndex,c=api.coord([noteX[i],noteY[i]]);const face={a:ARIAL,s:SERIF}[noteFace[i]];return{type:'text',x:c[0],y:c[1],scaleX:noteScale[i],style:{x:0,y:0,text:noteText[i],fill:noteColor[i],font:noteWeight[i]+' '+noteSize[i]+'px '+face,align:noteAlign[i],verticalAlign:'middle'}};}});
[macdRow,strRow,emaRow].forEach((row,r)=>{series.push({type:'scatter',xAxisIndex:0,yAxisIndex:0,z:5,silent:true,symbol:'rect',symbolSize:[18,5],data:row.map((col,i)=>({value:[signalColX[i],signalRowY[r]],itemStyle:{color:col}}))});});
series.push(lineSeries(0,handDrawn,'#ffff00',1,6));
series.push({type:'scatter',xAxisIndex:0,yAxisIndex:0,z:6,silent:true,symbol:'path://M0 0L2 0L5 3L8 0L10 0L10 2L7 5L10 8L10 10L8 10L5 7L2 10L0 10L0 8L3 5L0 2Z',symbolSize:7,itemStyle:{color:'#ff0000'},data:crossMarks});
panels.forEach((pn,g)=>{series.push({type:'custom',xAxisIndex:g,yAxisIndex:g,clip:false,z:10,silent:true,data:indexData(vlineX.length),renderItem:(p,api)=>{const i=p.dataIndex,a=api.coord([vlineX[i],pn[3]]),b=api.coord([vlineX[i],pn[2]]);return{type:'line',shape:{x1:a[0],y1:a[1],x2:b[0],y2:b[1]},style:{stroke:colors[vlineKind[i]],lineWidth:2}};}});});
series.push({type:'custom',xAxisIndex:6,yAxisIndex:6,clip:false,z:12,silent:true,data:indexData(vlineX.length),renderItem:(p,api)=>{const i=p.dataIndex,c=api.coord([vlineX[i],panels[6][2]]);return{type:'group',children:[{type:'rect',shape:{x:c[0]-40,y:c[1]+3.5,width:80,height:11},style:{fill:colors[vlineKind[i]]}},{type:'text',x:c[0],y:c[1]+9,scaleX:.84,style:{x:0,y:0,text:vlineTime[i],fill:'#000',font:'11px '+ARIAL,align:'center',verticalAlign:'middle'}}]};}});

const titleY=[169.5,198.3,302.3,406.7,485.7,564.7,619];
const graphic=panelTitles.map((t,i)=>({type:'text',silent:true,z:6,x:i===6?6:7,y:titleY[i],scaleX:i===6?1:.82,style:{x:0,y:0,text:t,fill:ORANGE,font:(i===6?'12.5px ':'11.5px ')+ARIAL,verticalAlign:'middle'}}));

const tagStyle=c=>({backgroundColor:c,color:'#000',width:31,height:11,align:'center',fontFamily:ARIAL,fontSize:10.5});
const option={animation:false,backgroundColor:'#000',graphic,
 grid:panels.map(p=>({left:2.5,top:p[0]+.5,width:XMAX-XMIN,height:p[1],show:true,borderColor:ORANGE,borderWidth:1,backgroundColor:'#000',containLabel:false,outerBoundsMode:'none'})),
 xAxis:panels.map((p,i)=>({type:'value',gridIndex:i,min:XMIN,max:XMAX,scale:true,show:i===6,splitLine:{show:false},axisLine:{show:false},axisTick:{show:i===6,length:3,customValues:timeTicks,lineStyle:{color:ORANGE}},axisLabel:{show:i===6,customValues:timeTicks,align:'left',margin:4,color:ORANGE,fontFamily:ARIAL,fontSize:10,hideOverlap:false,formatter:v=>timeLabels[timeTicks.indexOf(v)]||''}})),
 yAxis:panels.map((p,i)=>{const vals=axisTexts[i].map(a=>a[0]);const m=new Map(axisTexts[i]);return{type:'value',gridIndex:i,position:'right',min:p[2],max:p[3],scale:true,splitLine:{show:false},axisLine:{show:false},axisTick:{show:true,length:3,customValues:vals,lineStyle:{color:ORANGE}},axisLabel:{show:true,customValues:vals,margin:2,color:ORANGE,fontFamily:ARIAL,fontSize:10.5,hideOverlap:false,formatter:v=>{const s=m.get(v)||'';return s.startsWith('{')?s:'{p|'+s+'}';},rich:{p:{color:ORANGE,fontFamily:ARIAL,fontSize:10.5,padding:[0,0,0,3]},tag:{backgroundColor:ORANGE,color:'#000',width:36,height:11,fontFamily:ARIAL,fontSize:10.5},blue:tagStyle('#1e90ff'),green:tagStyle('#008000'),mag:tagStyle('#ff00ff')}}};}),
 visualMap:[{type:'piecewise',show:false,dimension:0,seriesIndex:macdThickIndex,pieces}],
 series};
const chart=echarts.init(document.getElementById('c'),null,{renderer:'canvas',width:1258,height:644});
chart.setOption(option);
</script></body></html>
